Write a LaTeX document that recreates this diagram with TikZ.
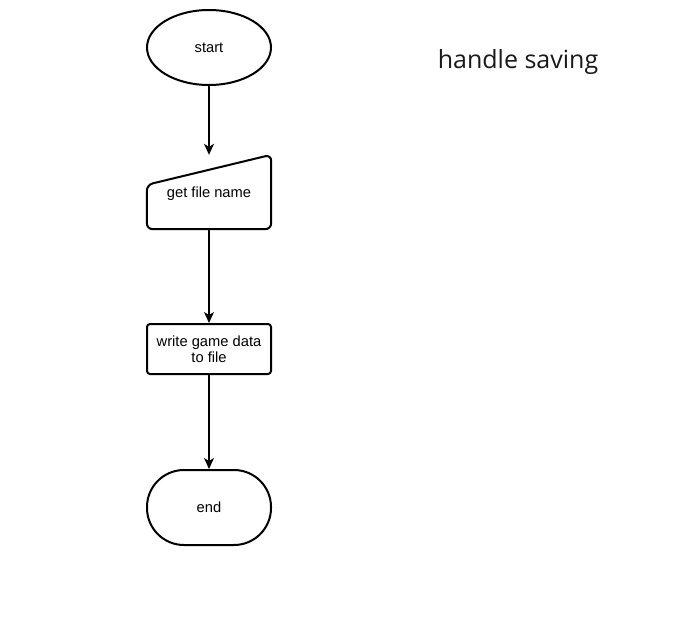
\documentclass[tikz,border=0pt]{standalone}
\usepackage{fontspec}
\setmainfont{Liberation Sans}
\newfontfamily\titlefont{Open Sans}
\usetikzlibrary{shapes.geometric,arrows.meta,calc}
\begin{document}
\begin{tikzpicture}[x=1pt,y=-1pt,
  shapeline/.style={draw, line width=2pt},
  conn/.style={draw, line width=1.2pt, -{Stealth[length=11pt,width=10pt,inset=3pt]}},
  lbl/.style={font=\fontsize{14.7}{17}\selectfont, align=center, text=black}]
\useasboundingbox (0,0) rectangle (696,626);
\node[shapeline, ellipse, minimum width=124pt, minimum height=75pt, inner sep=0pt, lbl] (start) at (209,47.5) {start};
\node[minimum width=124pt, minimum height=74pt, inner sep=0pt] (get) at (209,192) {};
\draw[line width=2pt, rounded corners=6pt]
  ($(get.north west)+(0,30)$) -- (get.north east) -- (get.south east) -- (get.south west) -- cycle;
\node[lbl] (getlbl) at (209,193.5) {get file name};
\node[shapeline, rounded corners=3pt, minimum width=124pt, minimum height=50pt, inner sep=0pt, lbl] (write) at (209,349) {\raisebox{-1pt}{write game data}\\to file};
\node[shapeline, rounded corners=37pt, minimum width=124pt, minimum height=75pt, inner sep=0pt, lbl] (end) at (209,507.5) {\raisebox{-1pt}{end}};
\draw[conn] (start) -- (get);
\draw[conn] (get) -- (write);
\draw[conn] (write) -- (end);
\node[font=\titlefont\fontsize{25}{28}\selectfont, text=black!90] (title) at (518,62) {handle saving};
\end{tikzpicture}
\end{document}
